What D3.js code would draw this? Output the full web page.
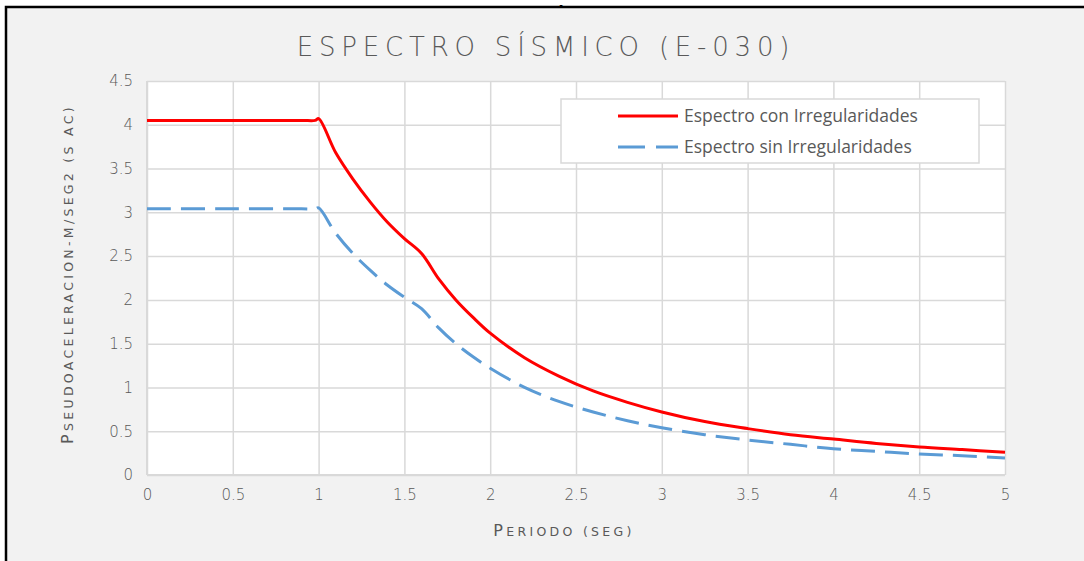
<!DOCTYPE html>
<html>
<head>
<meta charset="utf-8">
<script src="https://cdn.jsdelivr.net/npm/d3@7"></script>
<style>
  html, body { margin: 0; padding: 0; background: #ffffff; }
  svg { display: block; }
  .tick text { font-family: "DejaVu Sans", sans-serif; font-weight: 200; font-size: 15px; fill: #595959; }
</style>
</head>
<body>
<svg id="chart"></svg>
<script>
// periodo T (seg)
var periodo = [0, 0.5, 0.9, 0.98, 1.0, 1.1, 1.2, 1.3, 1.4, 1.5, 1.6, 1.7, 1.8, 1.9, 2.0,
    2.2, 2.4, 2.6, 2.8, 3.0, 3.25, 3.5, 3.75, 4.0, 4.25, 4.5, 4.75, 5.0];
// Sa con irregularidades
var conIrreg = [4.05, 4.05, 4.05, 4.05, 4.07, 3.68, 3.38, 3.12, 2.89, 2.70, 2.53, 2.24, 2.00, 1.80, 1.62,
    1.34, 1.13, 0.96, 0.83, 0.72, 0.61, 0.53, 0.46, 0.41, 0.36, 0.32, 0.29, 0.26];
// Sa sin irregularidades
var sinIrreg = [3.04, 3.04, 3.04, 3.04, 3.05, 2.76, 2.53, 2.34, 2.17, 2.03, 1.90, 1.68, 1.50, 1.35, 1.22,
    1.00, 0.84, 0.72, 0.62, 0.54, 0.46, 0.40, 0.35, 0.30, 0.27, 0.24, 0.22, 0.195];

var xTicks = [0, 0.5, 1, 1.5, 2, 2.5, 3, 3.5, 4, 4.5, 5];
var yTicks = [0, 0.5, 1, 1.5, 2, 2.5, 3, 3.5, 4, 4.5];

var seriesNames = ['Espectro con Irregularidades', 'Espectro sin Irregularidades'];

var W = 1084, H = 561;
var plot = { left: 147, right: 1005, top: 81, bottom: 475 };

var svg = d3.select('#chart').attr('width', W).attr('height', H);

// stray glyph cut by the frame at the top
svg.append('text')
    .attr('x', 561).attr('y', 19)
    .attr('text-anchor', 'middle')
    .style('font-family', 'DejaVu Sans, sans-serif')
    .style('font-size', '20px')
    .style('fill', '#000')
    .text('A');

// chart background and frame
svg.append('rect')
    .attr('x', 6).attr('y', 7)
    .attr('width', W - 6).attr('height', H - 7)
    .attr('fill', '#f2f2f2');
svg.append('path')
    .attr('d', 'M6,' + H + 'V7H' + W)
    .attr('fill', 'none')
    .attr('stroke', '#000')
    .attr('stroke-width', 2.5);

svg.append('rect')
    .attr('x', plot.left).attr('y', plot.top)
    .attr('width', plot.right - plot.left).attr('height', plot.bottom - plot.top)
    .attr('fill', '#ffffff');

var xScale = d3.scaleLinear().domain([0, 5]).range([plot.left, plot.right]);
var yScale = d3.scaleLinear().domain([0, 4.5]).range([plot.bottom, plot.top]);

// vertical gridlines + x labels
var xAxis = d3.axisBottom(xScale)
    .tickValues(xTicks)
    .tickSize(-(plot.bottom - plot.top))
    .tickPadding(14)
    .tickFormat(function(d) { return String(d); });
var gx = svg.append('g')
    .attr('transform', 'translate(0,' + plot.bottom + ')')
    .call(xAxis);
gx.select('.domain').remove();
gx.selectAll('.tick line').attr('stroke', '#d9d9d9').attr('stroke-width', 1.5);

// horizontal gridlines + y labels
var yAxis = d3.axisLeft(yScale)
    .tickValues(yTicks)
    .tickSize(-(plot.right - plot.left))
    .tickPadding(14)
    .tickFormat(function(d) { return String(d); });
var gy = svg.append('g')
    .attr('transform', 'translate(' + plot.left + ',0)')
    .call(yAxis);
gy.select('.domain').remove();
gy.selectAll('.tick line').attr('stroke', '#d9d9d9').attr('stroke-width', 1.5);

// axis lines
svg.append('line')
    .attr('x1', plot.left).attr('x2', plot.right)
    .attr('y1', plot.bottom).attr('y2', plot.bottom)
    .attr('stroke', '#d9d9d9').attr('stroke-width', 2);
svg.append('line')
    .attr('x1', plot.left).attr('x2', plot.left)
    .attr('y1', plot.top).attr('y2', plot.bottom)
    .attr('stroke', '#d9d9d9').attr('stroke-width', 2);

// series (smoothed like the spreadsheet line)
function lineFor(values) {
    return d3.line()
        .x(function(d, i) { return xScale(periodo[i]); })
        .y(function(d) { return yScale(d); })
        .curve(d3.curveCatmullRom)(values);
}

svg.append('path')
    .attr('d', lineFor(sinIrreg))
    .attr('fill', 'none')
    .attr('stroke', '#5b9bd5')
    .attr('stroke-width', 3)
    .attr('stroke-dasharray', '24,10');

svg.append('path')
    .attr('d', lineFor(conIrreg))
    .attr('fill', 'none')
    .attr('stroke', '#ff0000')
    .attr('stroke-width', 3);

// title
svg.append('text')
    .attr('x', 546).attr('y', 56)
    .attr('text-anchor', 'middle')
    .style('font-family', 'DejaVu Sans, sans-serif')
    .style('font-weight', 200)
    .style('font-size', '26px')
    .style('letter-spacing', '5.8px')
    .style('fill', '#595959')
    .text('ESPECTRO SÍSMICO (E-030)');

// axis titles (small caps drawn as a big first letter + smaller capitals)
function smallCaps(sel, first, rest) {
    sel.style('font-family', 'DejaVu Sans, sans-serif')
        .style('fill', '#595959')
        .style('letter-spacing', '3.3px');
    sel.append('tspan').style('font-size', '16px').text(first);
    sel.append('tspan').style('font-size', '12.5px').text(rest);
}

svg.append('text')
    .attr('x', 564).attr('y', 536)
    .attr('text-anchor', 'middle')
    .call(smallCaps, 'P', 'ERIODO (SEG)');

svg.append('text')
    .attr('transform', 'translate(73,274) rotate(-90)')
    .attr('text-anchor', 'middle')
    .call(smallCaps, 'P', 'SEUDOACELERACION-M/SEG2 (S AC)');

// legend
var legend = svg.append('g');
legend.append('rect')
    .attr('x', 561).attr('y', 99)
    .attr('width', 418).attr('height', 64)
    .attr('fill', '#ffffff')
    .attr('stroke', '#d9d9d9')
    .attr('stroke-width', 1.5);

var legendStyles = [
    { color: '#ff0000', dash: null, y: 116 },
    { color: '#5b9bd5', dash: '27,11', y: 147 }
];
seriesNames.forEach(function(name, i) {
    var s = legendStyles[i];
    legend.append('line')
        .attr('x1', 618).attr('x2', 678)
        .attr('y1', s.y).attr('y2', s.y)
        .attr('stroke', s.color)
        .attr('stroke-width', 3)
        .attr('stroke-dasharray', s.dash);
    legend.append('text')
        .attr('x', 684).attr('y', s.y + 6)
        .style('font-family', '"Open Sans", sans-serif')
        .style('font-size', '17.5px')
        .style('fill', '#595959')
        .text(name);
});
</script>
</body>
</html>
